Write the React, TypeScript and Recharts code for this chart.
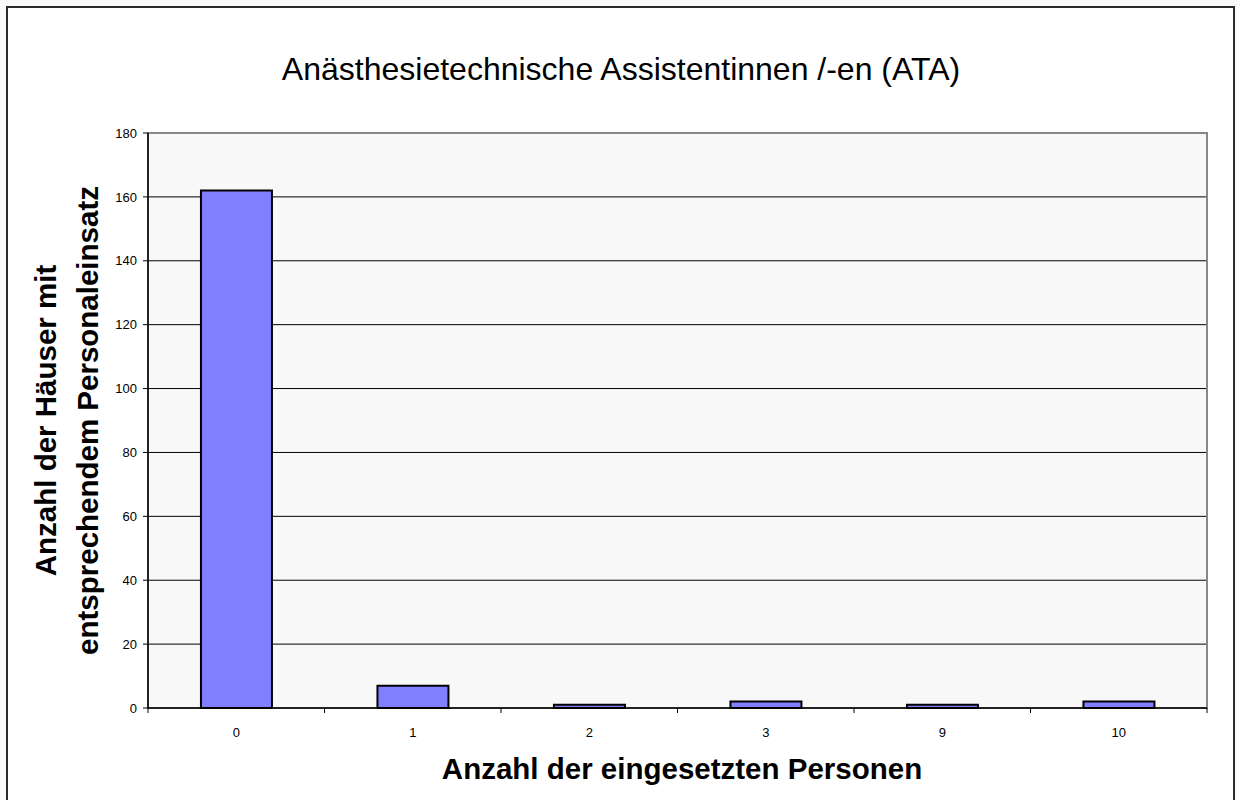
import React from 'react';
import {
    BarChart,
    Bar,
    XAxis,
    YAxis,
    CartesianGrid,
    ReferenceArea,
} from 'recharts';

const categories = ['0', '1', '2', '3', '9', '10'];
const houses = [162, 7, 1, 2, 1, 2];
const yTicks = [0, 20, 40, 60, 80, 100, 120, 140, 160, 180];
const gridValues = [20, 40, 60, 80, 100, 120, 140, 160];

const title = 'Anästhesietechnische Assistentinnen /-en (ATA)';
const xTitle = 'Anzahl der eingesetzten Personen';
const yTitle = ['Anzahl der Häuser mit', 'entsprechendem Personaleinsatz'];

const data = categories.map((c, i) => ({ name: c, value: houses[i] }));

const FONT = '"Liberation Sans", Arial, sans-serif';

// category ticks: label in the middle, tick marks on the band borders
const XTick = (props: any) => {
    const { x, y, payload, index, visibleTicksCount } = props;
    const off = payload.offset || 0;
    const last = index === (visibleTicksCount ?? categories.length) - 1;
    return (
        <g>
            <line x1={x - off} x2={x - off} y1={y} y2={y + 5} stroke="#000" strokeWidth={1} />
            {last && <line x1={x + off} x2={x + off} y1={y} y2={y + 5} stroke="#000" strokeWidth={1} />}
            <text x={x} y={y + 29} textAnchor="middle" fontSize={13} fill="#000" fontFamily={FONT}>
                {payload.value}
            </text>
        </g>
    );
};

const YTitle = (props: any) => {
    const vb = props.viewBox || {};
    const cy = vb.y + vb.height / 2;
    return (
        <g>
            {yTitle.map((t, i) => {
                const cx = 56 + i * 42;
                return (
                    <text
                        key={t}
                        x={cx}
                        y={cy}
                        transform={`rotate(-90 ${cx} ${cy})`}
                        textAnchor="middle"
                        fontSize={29.5}
                        fontWeight="bold"
                        fill="#000"
                        fontFamily={FONT}
                    >
                        {t}
                    </text>
                );
            })}
        </g>
    );
};

const App = () => {
    return (
        <div style={{ position: 'absolute', left: 0, top: 0, width: 1237, height: 800, background: '#fafafa', overflow: 'hidden' }}>
            <div
                style={{
                    position: 'absolute',
                    left: 6,
                    top: 6,
                    width: 1229,
                    height: 800,
                    background: '#fff',
                    border: '2px solid #2a2a2a',
                    boxSizing: 'border-box',
                }}
            />
            <div style={{ position: 'absolute', left: 0, top: 0 }}>
                <BarChart
                    width={1237}
                    height={800}
                    data={data}
                    margin={{ top: 133, right: 30, bottom: 62, left: 88 }}
                    barCategoryGap="30%"
                >
                    <CartesianGrid
                        vertical={false}
                        horizontalValues={gridValues}
                        stroke="#000"
                        strokeWidth={1}
                        fill="#f8f8f8"
                    />
                    {/* plot frame: gray on top and right, axes cover the other sides */}
                    <ReferenceArea
                        x1={categories[0]}
                        x2={categories[categories.length - 1]}
                        y1={0}
                        y2={180}
                        fill="none"
                        fillOpacity={0}
                        stroke="#888"
                        strokeWidth={2}
                        ifOverflow="visible"
                    />
                    <XAxis
                        dataKey="name"
                        height={30}
                        tickSize={0}
                        tickMargin={0}
                        tickLine={false}
                        axisLine={{ stroke: '#000', strokeWidth: 1.5 }}
                        tick={<XTick />}
                        interval={0}
                    />
                    <YAxis
                        width={60}
                        domain={[0, 180]}
                        ticks={yTicks}
                        interval={0}
                        tickSize={5}
                        tickMargin={6}
                        axisLine={{ stroke: '#000', strokeWidth: 1.5 }}
                        tickLine={{ stroke: '#000' }}
                        tick={{ fill: '#000', fontSize: 13, fontFamily: FONT }}
                        label={<YTitle />}
                    />
                    <Bar
                        dataKey="value"
                        fill="#8080ff"
                        stroke="#000"
                        strokeWidth={2}
                        isAnimationActive={false}
                    />
                    <text x={621} y={80} textAnchor="middle" fontSize={32} fill="#000" fontFamily={FONT}>
                        {title}
                    </text>
                    <text x={682} y={779} textAnchor="middle" fontSize={29.5} fontWeight="bold" fill="#000" fontFamily={FONT}>
                        {xTitle}
                    </text>
                </BarChart>
            </div>
        </div>
    );
};

export default App;
